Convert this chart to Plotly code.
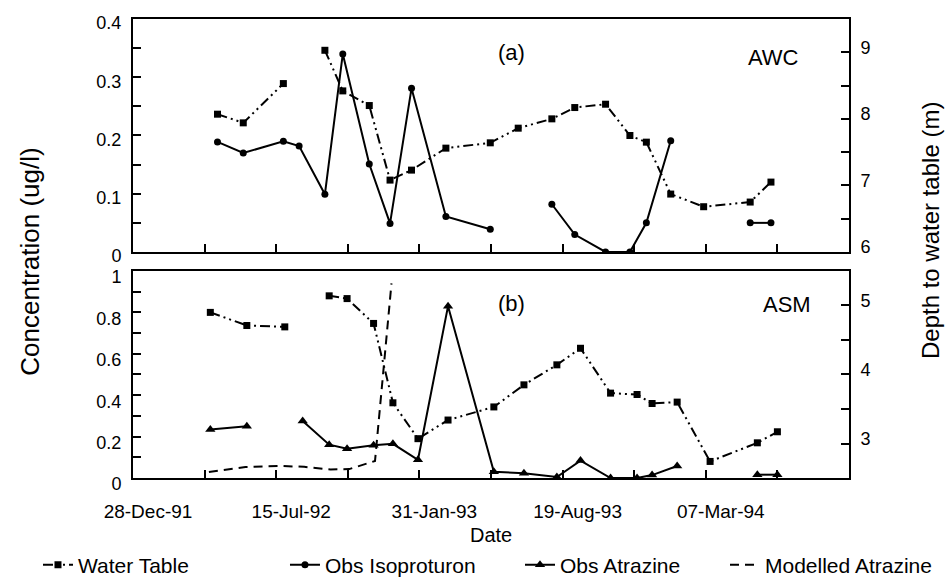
import plotly.graph_objects as go
from datetime import date, timedelta

# ---------------- data ----------------
axis_start = "1991-12-28"
axis_end = "1994-09-23"
tick_step_days = 100
tick_labels = ["28-Dec-91", "", "15-Jul-92", "", "31-Jan-93", "", "19-Aug-93", "", "07-Mar-94", "", ""]

# Panel (a) AWC
dates_a = ["1992-04-24", "1992-05-30", "1992-07-25", "1992-08-16", "1992-09-21", "1992-10-16",
           "1992-11-22", "1992-12-21", "1993-01-20", "1993-03-09", "1993-05-10", "1993-06-18",
           "1993-08-04", "1993-09-05", "1993-10-18", "1993-11-21", "1993-12-14", "1994-01-17",
           "1994-03-04", "1994-05-08", "1994-06-06"]
water_a = [8.07, 7.94, 8.53, None, 9.03, 8.42, 8.20, 7.08, 7.23, 7.56, 7.64, 7.86,
           8.00, 8.17, 8.22, 7.75, 7.65, 6.87, 6.68, 6.75, 7.05]
iso_a = [0.189, 0.170, 0.190, 0.182, 0.099, 0.340, 0.151, 0.049, 0.281, 0.061, 0.039, None,
         0.082, 0.030, 0.0, 0.0, 0.050, 0.191, None, 0.050, 0.050]

# Panel (b) ASM
dates_b = ["1992-04-14", "1992-06-04", "1992-07-27", "1992-08-21", "1992-09-27", "1992-10-22",
           "1992-11-28", "1992-12-25", "1993-01-29", "1993-03-12", "1993-05-15", "1993-06-26",
           "1993-08-11", "1993-09-13", "1993-10-25", "1993-12-01", "1993-12-22", "1994-01-26",
           "1994-03-13", "1994-05-18", "1994-06-15"]
water_b = [4.90, 4.71, 4.69, None, 5.14, 5.10, 4.74, 3.59, 3.07, 3.34, 3.53, 3.85,
           4.14, 4.38, 3.73, 3.71, 3.58, 3.60, 2.74, 3.01, 3.17]
atz_b = [0.234, 0.250, None, 0.275, 0.161, 0.141, 0.158, 0.165, 0.088, 0.83, 0.030, 0.023,
         0.005, 0.084, 0.0, 0.0, 0.014, 0.058, None, 0.016, 0.016]

dates_model = ["1992-04-12", "1992-06-02", "1992-07-23", "1992-08-23", "1992-09-29",
               "1992-10-25", "1992-11-30", "1992-12-23"]
model_b = [0.029, 0.053, 0.058, 0.054, 0.041, 0.043, 0.082, 0.94]

# ---------------- style ----------------
FONT = "Liberation Sans, Arial, sans-serif"
BLACK = "black"
WT_DASH = "10px,4px,2px,4px,2px,4px"
LEG_FONT = dict(family=FONT, size=21)

base = date.fromisoformat(axis_start)
tickvals = [(base + timedelta(days=tick_step_days * i)).isoformat() for i in range(len(tick_labels))]

fig = go.Figure()
fig.add_trace(go.Scatter(x=dates_a, y=water_a, name="Water Table", xaxis="x2", yaxis="y4",
                         legend="legend", legendwidth=202,
                         mode="lines+markers", line=dict(color=BLACK, width=2, dash=WT_DASH),
                         marker=dict(symbol="square", size=7, color=BLACK)))
fig.add_trace(go.Scatter(x=dates_b, y=water_b, name="Water Table", xaxis="x", yaxis="y2",
                         showlegend=False,
                         mode="lines+markers", line=dict(color=BLACK, width=2, dash=WT_DASH),
                         marker=dict(symbol="square", size=7, color=BLACK)))
fig.add_trace(go.Scatter(x=dates_a, y=iso_a, name="Obs Isoproturon", xaxis="x2", yaxis="y3",
                         legend="legend",
                         mode="lines+markers", line=dict(color=BLACK, width=2),
                         marker=dict(symbol="circle", size=7, color=BLACK)))
fig.add_trace(go.Scatter(x=dates_b, y=atz_b, name="Obs Atrazine", xaxis="x", yaxis="y",
                         legend="legend2", legendwidth=160,
                         mode="lines+markers", line=dict(color=BLACK, width=2),
                         marker=dict(symbol="triangle-up", size=9, color=BLACK)))
fig.add_trace(go.Scatter(x=dates_model, y=model_b, name="Modelled Atrazine", xaxis="x", yaxis="y",
                         legend="legend2",
                         mode="lines", line=dict(color=BLACK, width=2, dash="9px,6px")))

common_ax = dict(showline=True, linecolor=BLACK, linewidth=2, ticks="inside", ticklen=8,
                 tickwidth=1.5, tickcolor=BLACK, showgrid=False, zeroline=False,
                 tickfont=dict(family=FONT, size=18))


def minor_ax(d):
    return dict(dtick=d, ticks="inside", ticklen=8, tickwidth=1.5, tickcolor=BLACK, showgrid=False)


legend_common = dict(orientation="h", xanchor="left", y=-0.1895, yanchor="middle",
                     font=LEG_FONT, bgcolor="rgba(0,0,0,0)", itemwidth=30)

fig.update_layout(
    width=948, height=581,
    margin=dict(l=133, r=99, t=19, b=103, autoexpand=False),
    paper_bgcolor="white", plot_bgcolor="white",
    font=dict(family=FONT, size=20, color=BLACK),
    xaxis=dict(common_ax, domain=[0, 1], anchor="y", type="date", range=[axis_start, axis_end],
               tickvals=tickvals, ticktext=tick_labels, mirror=True,
               tickfont=dict(family=FONT, size=19), ticklabelshift=15, ticklabelstandoff=15),
    xaxis2=dict(common_ax, domain=[0, 1], anchor="y3", type="date", range=[axis_start, axis_end],
                tickvals=tickvals, ticktext=[""] * len(tickvals), mirror=True,
                showticklabels=False, matches="x"),
    yaxis=dict(common_ax, domain=[0, 0.451], anchor="x", range=[0, 1], dtick=0.2,
               minor=minor_ax(0.1), ticklabelstandoff=6, ticklabelshift=6),
    yaxis2=dict(common_ax, overlaying="y", side="right", anchor="x", range=[2.5, 5.5], dtick=1,
                minor=minor_ax(0.5), ticklabelstandoff=6, ticklabelshift=-5),
    yaxis3=dict(common_ax, domain=[0.4924, 1], anchor="x2", range=[0, 0.4], dtick=0.1,
                minor=minor_ax(0.05), ticklabelstandoff=6, ticklabelshift=4),
    yaxis4=dict(common_ax, overlaying="y3", side="right", anchor="x2", range=[6, 9.5], dtick=1,
                minor=minor_ax(0.5), ticklabelstandoff=6, ticklabelshift=-5),
    legend=dict(legend_common, x=-0.1327),
    legend2=dict(legend_common, x=0.5405),
    showlegend=True,
)

annots = [
    dict(text="(a)", x=0.528, y=0.926),
    dict(text="AWC", x=0.894, y=0.917),
    dict(text="(b)", x=0.528, y=0.381),
    dict(text="ASM", x=0.913, y=0.377),
]
for a in annots:
    fig.add_annotation(xref="paper", yref="paper", showarrow=False, xanchor="center",
                       yanchor="middle", font=dict(family=FONT, size=22), **a)

fig.add_annotation(text="Date", xref="paper", yref="paper", x=0.5, y=-0.124, showarrow=False,
                   xanchor="center", yanchor="middle", font=dict(family=FONT, size=20))
fig.add_annotation(text="Concentration (ug/l)", xref="paper", yref="paper", x=-0.144, y=0.471,
                   textangle=-90, showarrow=False, xanchor="center", yanchor="middle",
                   font=dict(family=FONT, size=26))
fig.add_annotation(text="Depth to water table (m)", xref="paper", yref="paper", x=1.113, y=0.54,
                   textangle=-90, showarrow=False, xanchor="center", yanchor="middle",
                   font=dict(family=FONT, size=24))

fig.write_html("out.html")
